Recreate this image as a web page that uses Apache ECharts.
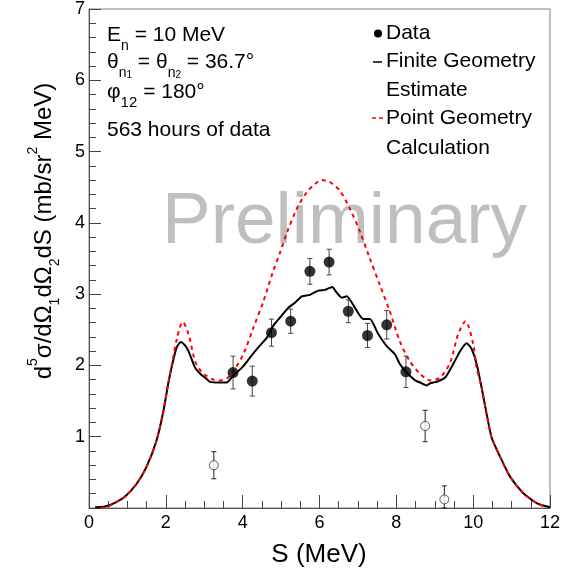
<!DOCTYPE html>
<html>
<head>
<meta charset="utf-8">
<script src="https://cdn.jsdelivr.net/npm/echarts@6/dist/echarts.min.js"></script>
<style>html,body{margin:0;padding:0;background:#fff}#c{width:570px;height:573px}</style>
</head>
<body>
<div id="c"></div>
<script>
// ---- data ----
var dataS = [3.75, 4.25, 4.75, 5.25, 5.75, 6.25, 6.75, 7.25, 7.75, 8.25];
var dataY = [1.90, 1.78, 2.46, 2.62, 3.32, 3.45, 2.76, 2.42, 2.57, 1.91];
var dataErr = [0.23, 0.21, 0.19, 0.17, 0.18, 0.18, 0.16, 0.17, 0.20, 0.22];

var openS = [3.25, 8.75, 9.25];
var openY = [0.60, 1.15, 0.12];
var openErr = [0.19, 0.22, 0.19];

var finiteS = [0.16, 0.42, 0.7, 0.94, 1.24, 1.5, 1.76, 1.94, 2.06, 2.17, 2.28, 2.39, 2.5, 2.59, 2.76, 2.9, 3.02, 3.15, 3.4, 3.58, 3.76, 4.0, 4.19, 4.4, 4.63, 4.8, 4.97, 5.19, 5.36, 5.54, 5.75, 5.97, 6.14, 6.33, 6.45, 6.58, 6.71, 6.92, 7.14, 7.31, 7.53, 7.75, 7.96, 8.09, 8.27, 8.49, 8.62, 8.79, 8.88, 9.05, 9.27, 9.48, 9.66, 9.83, 9.96, 10.09, 10.22, 10.35, 10.48, 10.7, 10.96, 11.3, 11.65, 12.0];
var finiteY = [0.01, 0.02, 0.08, 0.16, 0.34, 0.58, 0.95, 1.37, 1.74, 2.02, 2.25, 2.33, 2.28, 2.20, 1.97, 1.88, 1.83, 1.77, 1.76, 1.76, 1.86, 1.98, 2.11, 2.25, 2.39, 2.56, 2.67, 2.81, 2.88, 2.97, 2.99, 3.05, 3.06, 3.10, 3.02, 2.95, 2.97, 2.81, 2.65, 2.65, 2.44, 2.27, 2.16, 2.02, 1.90, 1.79, 1.76, 1.72, 1.75, 1.77, 1.83, 2.02, 2.20, 2.31, 2.23, 2.02, 1.69, 1.32, 0.99, 0.72, 0.44, 0.21, 0.07, 0.01];

var pointS = [0.3, 0.5, 0.7, 0.94, 1.24, 1.5, 1.76, 1.94, 2.06, 2.17, 2.3, 2.44, 2.59, 2.76, 2.9, 3.02, 3.24, 3.41, 3.6, 3.76, 4.02, 4.28, 4.54, 4.78, 4.97, 5.15, 5.41, 5.67, 5.85, 6.06, 6.27, 6.53, 6.79, 7.05, 7.31, 7.57, 7.83, 8.09, 8.35, 8.62, 8.88, 9.14, 9.40, 9.61, 9.80, 10.0, 10.09, 10.22, 10.35, 10.48, 10.7, 10.96, 11.3, 11.65, 11.9];
var pointY = [0.0, 0.02, 0.08, 0.16, 0.34, 0.58, 0.95, 1.37, 1.74, 2.05, 2.40, 2.61, 2.44, 2.06, 1.93, 1.87, 1.80, 1.79, 1.82, 1.92, 2.16, 2.53, 2.90, 3.30, 3.58, 3.86, 4.20, 4.43, 4.53, 4.60, 4.57, 4.45, 4.20, 3.88, 3.50, 3.13, 2.76, 2.34, 2.06, 1.88, 1.79, 1.83, 2.04, 2.44, 2.62, 2.30, 1.97, 1.69, 1.32, 0.99, 0.72, 0.44, 0.21, 0.07, 0.01];

var xTicks = [0, 2, 4, 6, 8, 10, 12];
var yTicks = [1, 2, 3, 4, 5, 6, 7];

// ---- build ----
function pairs(xs, ys) { return xs.map(function (x, i) { return [x, ys[i]]; }); }
function triples(xs, ys, es) { return xs.map(function (x, i) { return [x, ys[i], es[i]]; }); }

var FONT = 'Liberation Sans, Arial, Helvetica, sans-serif';

function errRender(color) {
  return function (params, api) {
    var x = api.value(0), y = api.value(1), e = api.value(2);
    var lo = api.coord([x, Math.max(0, y - e)]);
    var hi = api.coord([x, y + e]);
    var st = { stroke: color, lineWidth: 1 };
    return {
      type: 'group',
      children: [
        { type: 'line', shape: { x1: lo[0], y1: lo[1], x2: hi[0], y2: hi[1] }, style: st },
        { type: 'line', shape: { x1: hi[0] - 2.5, y1: hi[1], x2: hi[0] + 2.5, y2: hi[1] }, style: st },
        { type: 'line', shape: { x1: lo[0] - 2.5, y1: lo[1], x2: lo[0] + 2.5, y2: lo[1] }, style: st }
      ]
    };
  };
}

var chart = echarts.init(document.getElementById('c'), null, { renderer: 'canvas' });

var option = {
  animation: false,
  backgroundColor: '#fff',
  grid: { left: 89, right: 20, top: 7, bottom: 65, show: true, borderColor: '#808080', borderWidth: 1 },
  xAxis: {
    type: 'value', min: 0, max: 12, interval: 2,
    axisLine: { show: true, lineStyle: { color: '#555', width: 1 } },
    axisTick: { show: true, inside: true, length: 13, lineStyle: { color: '#444' } },
    minorTick: { show: true, splitNumber: 4, length: 7, lineStyle: { color: '#444' } },
    splitLine: { show: false },
    axisLabel: { fontSize: 18, color: '#000', fontFamily: FONT, margin: 6,
      formatter: function (v) { return xTicks.indexOf(v) >= 0 ? String(v) : ''; } }
  },
  yAxis: {
    type: 'value', min: 0, max: 7, interval: 1,
    axisLine: { show: true, lineStyle: { color: '#555', width: 1 } },
    axisTick: { show: true, inside: true, length: 12, lineStyle: { color: '#444' } },
    minorTick: { show: true, splitNumber: 5, length: 7, lineStyle: { color: '#444' } },
    splitLine: { show: false },
    axisLabel: { fontSize: 18, color: '#000', fontFamily: FONT, margin: 4,
      formatter: function (v) { return yTicks.indexOf(v) >= 0 ? String(v) : ''; } }
  },
  series: [
    {
      name: 'Finite Geometry Estimate', type: 'line', showSymbol: false, z: 3,
      smooth: 0.2,
      data: pairs(finiteS, finiteY),
      lineStyle: { color: '#000', width: 2 }
    },
    {
      name: 'Point Geometry Calculation', type: 'line', showSymbol: false, z: 4,
      smooth: 0.3,
      data: pairs(pointS, pointY),
      lineStyle: { color: '#ff0000', width: 2, type: [4, 4] }
    },
    {
      type: 'custom', z: 5, renderItem: errRender('#444'),
      data: triples(dataS, dataY, dataErr)
    },
    {
      type: 'custom', z: 5, renderItem: errRender('#222'),
      data: triples(openS, openY, openErr)
    },
    {
      name: 'Data', type: 'scatter', z: 6, symbol: 'circle', symbolSize: 11,
      data: pairs(dataS, dataY),
      itemStyle: { color: '#000' }
    },
    {
      name: 'Excluded', type: 'scatter', z: 6, symbol: 'circle', symbolSize: 9,
      data: pairs(openS, openY),
      itemStyle: { color: '#fff', borderColor: '#333', borderWidth: 1 }
    }
  ],
  graphic: [
    // watermark
    { type: 'text', left: 162, top: 186, z: 1, silent: true,
      style: { text: 'Preliminary', fontSize: 73, fontFamily: FONT, fill: '#bfbfbf' } },
    // annotation block
    { type: 'text', x: 107, y: 35, z: 10,
      style: { text: 'E{s|n} = 10 MeV', fontSize: 21, lineHeight: 36, fontFamily: FONT, fill: '#000',
        verticalAlign: 'middle', align: 'left',
        rich: { s: { fontSize: 14, lineHeight: 22, verticalAlign: 'bottom', fontFamily: FONT, fill: '#000' } } } },
    { type: 'text', x: 107, y: 62, z: 10,
      style: { text: 'θ{s|n}{t|1} = θ{s|n}{t|2} = 36.7°', fontSize: 21, lineHeight: 36, fontFamily: FONT, fill: '#000',
        verticalAlign: 'middle', align: 'left',
        rich: { s: { fontSize: 14, lineHeight: 20, verticalAlign: 'bottom', fontFamily: FONT, fill: '#000' },
                t: { fontSize: 10, lineHeight: 8, verticalAlign: 'bottom', fontFamily: FONT, fill: '#000' } } } },
    { type: 'text', x: 107, y: 92, z: 10,
      style: { text: 'φ{s|12} = 180°', fontSize: 21, lineHeight: 36, fontFamily: FONT, fill: '#000',
        verticalAlign: 'middle', align: 'left',
        rich: { s: { fontSize: 15, lineHeight: 8, verticalAlign: 'bottom', fontFamily: FONT, fill: '#000' } } } },
    { type: 'text', x: 107, y: 130, z: 10,
      style: { text: '563 hours of data', fontSize: 21, fontFamily: FONT, fill: '#000', verticalAlign: 'middle', align: 'left' } },
    // legend
    { type: 'circle', shape: { cx: 378, cy: 33.5, r: 4 }, style: { fill: '#000' }, z: 10 },
    { type: 'text', x: 386, y: 33, z: 10,
      style: { text: 'Data', fontSize: 21, fontFamily: FONT, fill: '#000', verticalAlign: 'middle', align: 'left' } },
    { type: 'line', shape: { x1: 373, y1: 62, x2: 382, y2: 62 }, style: { stroke: '#000', lineWidth: 1.5 }, z: 10 },
    { type: 'text', x: 386, y: 61.5, z: 10,
      style: { text: 'Finite Geometry', fontSize: 21, fontFamily: FONT, fill: '#000', verticalAlign: 'middle', align: 'left' } },
    { type: 'text', x: 386, y: 90, z: 10,
      style: { text: 'Estimate', fontSize: 21, fontFamily: FONT, fill: '#000', verticalAlign: 'middle', align: 'left' } },
    { type: 'line', shape: { x1: 372, y1: 118, x2: 376, y2: 118 }, style: { stroke: '#ff0000', lineWidth: 1.5 }, z: 10 },
    { type: 'line', shape: { x1: 379, y1: 118, x2: 383, y2: 118 }, style: { stroke: '#ff0000', lineWidth: 1.5 }, z: 10 },
    { type: 'text', x: 386, y: 118, z: 10,
      style: { text: 'Point Geometry', fontSize: 21, fontFamily: FONT, fill: '#000', verticalAlign: 'middle', align: 'left' } },
    { type: 'text', x: 386, y: 148, z: 10,
      style: { text: 'Calculation', fontSize: 21, fontFamily: FONT, fill: '#000', verticalAlign: 'middle', align: 'left' } },
    // axis titles
    { type: 'text', x: 319, y: 555, z: 10,
      style: { text: 'S (MeV)', fontSize: 26, fontFamily: FONT, fill: '#000', verticalAlign: 'middle', align: 'center' } },
    { type: 'text', x: 44, y: 231, rotation: Math.PI / 2, z: 10,
      style: { text: 'd{p|5}σ/dΩ{b|1}dΩ{b|2}dS (mb/sr{p|2} MeV)', fontSize: 24, lineHeight: 36, fontFamily: FONT, fill: '#000',
        verticalAlign: 'middle', align: 'center',
        rich: { p: { fontSize: 14, lineHeight: 24, verticalAlign: 'top', fontFamily: FONT, fill: '#000' },
                b: { fontSize: 14, lineHeight: 12, verticalAlign: 'bottom', fontFamily: FONT, fill: '#000' } } } }
  ]
};
chart.setOption(option);
</script>
</body>
</html>
